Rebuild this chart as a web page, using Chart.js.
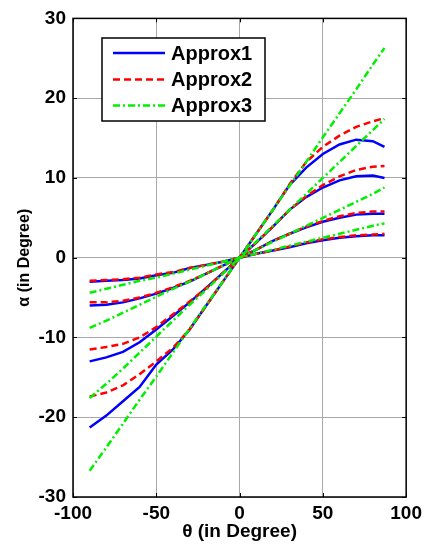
<!DOCTYPE html>
<html>
<head>
<meta charset="utf-8">
<script src="https://cdn.jsdelivr.net/npm/chart.js@4.4.1/dist/chart.umd.min.js"></script>
<style>
  html, body { margin: 0; padding: 0; background: #fff; }
  #wrap { width: 427px; height: 546px; }
</style>
</head>
<body>
<div id="wrap"><canvas id="alphaChart" width="427" height="546"></canvas></div>
<script>
const thetaDeg = [-90, -80, -70, -60, -50, -40, -30, -20, -10, 0, 10, 20, 30, 40, 50, 60, 70, 80, 87];

// Approx1 (blau), vier Kurven
const approx1_k1 = [-21.3, -19.8, -18.0, -16.2, -13.4, -11.5, -9.0, -6.0, -3.0, 0, 3.0, 6.0, 9.1, 11.3, 13.0, 14.2, 14.8, 14.6, 13.9];
const approx1_k2 = [-13.0, -12.5, -11.8, -10.6, -9.0, -7.3, -5.6, -3.8, -1.9, 0, 1.9, 3.9, 6.0, 7.6, 8.8, 9.7, 10.2, 10.3, 10.0];
const approx1_k3 = [-6.0, -5.9, -5.6, -5.1, -4.5, -3.8, -3.0, -2.0, -1.0, 0, 1.0, 2.1, 3.0, 3.8, 4.5, 5.0, 5.4, 5.5, 5.5];
const approx1_k4 = [-3.0, -2.9, -2.8, -2.6, -2.2, -1.9, -1.3, -0.9, -0.5, 0, 0.5, 0.9, 1.3, 1.8, 2.2, 2.5, 2.7, 2.8, 2.8];

// Approx2 (rot gestrichelt)
const approx2_k1 = [-17.4, -16.9, -16.0, -14.6, -13.0, -11.3, -9.0, -6.0, -3.0, 0, 3.0, 6.0, 9.2, 12.0, 13.9, 15.3, 16.4, 17.1, 17.5];
const approx2_k2 = [-11.5, -11.2, -10.8, -10.0, -8.7, -7.1, -5.5, -3.8, -1.9, 0, 1.9, 3.9, 6.0, 7.7, 9.1, 10.2, 11.0, 11.4, 11.5];
const approx2_k3 = [-5.6, -5.6, -5.4, -5.0, -4.4, -3.7, -2.9, -2.0, -1.0, 0, 1.0, 2.1, 3.0, 3.9, 4.6, 5.2, 5.6, 5.8, 5.8];
const approx2_k4 = [-2.9, -2.8, -2.7, -2.5, -2.1, -1.8, -1.3, -0.9, -0.5, 0, 0.5, 0.9, 1.4, 1.9, 2.3, 2.6, 2.8, 2.9, 3.0];

// Approx3 (gruen strich-punkt)
const approx3_k1 = [-26.7, -23.8, -20.8, -17.8, -14.9, -11.9, -8.9, -5.9, -3.0, 0, 3.0, 6.0, 9.0, 12.0, 15.1, 18.1, 21.1, 24.2, 26.3];
const approx3_k2 = [-17.6, -15.8, -13.9, -11.9, -9.9, -7.9, -5.9, -4.0, -2.0, 0, 2.0, 4.0, 6.0, 8.0, 10.0, 12.0, 14.0, 16.0, 17.4];
const approx3_k3 = [-8.8, -7.9, -6.9, -5.9, -4.9, -3.9, -3.0, -2.0, -1.0, 0, 1.0, 2.0, 3.0, 4.0, 5.0, 6.0, 7.0, 8.0, 8.8];
const approx3_k4 = [-4.4, -3.9, -3.4, -2.9, -2.5, -2.0, -1.5, -1.0, -0.5, 0, 0.5, 1.0, 1.5, 2.0, 2.5, 3.0, 3.5, 4.0, 4.3];

const seriesNames = ["Approx1", "Approx2", "Approx3"];
const xTicks = [-100, -50, 0, 50, 100];
const yTicks = [-30, -20, -10, 0, 10, 20, 30];

const FONT = "'Liberation Sans', Arial, sans-serif";
const styles = [
  { color: "#0000ff", dash: [], order: 2 },
  { color: "#ff0000", dash: [7, 4], order: 1 },
  { color: "#00f000", dash: [7, 3, 2, 3], order: 0 }
];

const toPoints = (vals) => vals.map((v, i) => ({ x: thetaDeg[i], y: v }));

function makeDataset(vals, s) {
  return {
    data: toPoints(vals),
    borderColor: styles[s].color,
    borderDash: styles[s].dash,
    borderWidth: 2.5,
    pointRadius: 0,
    tension: 0,
    fill: false,
    order: styles[s].order
  };
}

const datasets = [
  makeDataset(approx1_k1, 0), makeDataset(approx1_k2, 0), makeDataset(approx1_k3, 0), makeDataset(approx1_k4, 0),
  makeDataset(approx2_k1, 1), makeDataset(approx2_k2, 1), makeDataset(approx2_k3, 1), makeDataset(approx2_k4, 1),
  makeDataset(approx3_k1, 2), makeDataset(approx3_k2, 2), makeDataset(approx3_k3, 2), makeDataset(approx3_k4, 2)
];

// Rahmen mit innen liegenden Ticks (MATLAB-Stil)
const frameBox = {
  id: "frameBox",
  afterDatasetsDraw(chart) {
    const { ctx, chartArea: a, scales } = chart;
    ctx.save();
    ctx.strokeStyle = "#000";
    ctx.lineWidth = 1.5;
    ctx.strokeRect(a.left, a.top, a.right - a.left, a.bottom - a.top);
    ctx.lineWidth = 1;
    ctx.beginPath();
    xTicks.forEach(v => {
      const px = Math.round(scales.x.getPixelForValue(v)) + 0.5;
      ctx.moveTo(px, a.bottom); ctx.lineTo(px, a.bottom - 4);
      ctx.moveTo(px, a.top); ctx.lineTo(px, a.top + 4);
    });
    yTicks.forEach(v => {
      const py = Math.round(scales.y.getPixelForValue(v)) + 0.5;
      ctx.moveTo(a.left, py); ctx.lineTo(a.left + 4, py);
      ctx.moveTo(a.right, py); ctx.lineTo(a.right - 4, py);
    });
    ctx.stroke();
    ctx.restore();
  }
};

// Legende als Kasten oben links im Plot
const boxLegend = {
  id: "boxLegend",
  afterDraw(chart) {
    const ctx = chart.ctx;
    const bx = 102, by = 38, bw = 163, bh = 83;
    ctx.save();
    ctx.fillStyle = "#fff";
    ctx.fillRect(bx, by, bw, bh);
    ctx.strokeStyle = "#000";
    ctx.lineWidth = 1.5;
    ctx.strokeRect(bx, by, bw, bh);
    const rows = [53, 79.5, 105.5];
    seriesNames.forEach((name, i) => {
      ctx.beginPath();
      ctx.strokeStyle = styles[i].color;
      ctx.lineWidth = 2.5;
      ctx.setLineDash(styles[i].dash);
      ctx.moveTo(113, rows[i]);
      ctx.lineTo(165, rows[i]);
      ctx.stroke();
      ctx.setLineDash([]);
      ctx.fillStyle = "#000";
      ctx.font = "bold 20px " + FONT;
      ctx.textBaseline = "middle";
      ctx.fillText(name, 171, rows[i] + 1);
    });
    ctx.restore();
  }
};

new Chart(document.getElementById("alphaChart"), {
  type: "line",
  data: { datasets: datasets },
  options: {
    responsive: false,
    animation: false,
    devicePixelRatio: 1,
    layout: { padding: { top: 16, right: 15, left: 0, bottom: 0 } },
    plugins: { legend: { display: false }, tooltip: { enabled: false } },
    scales: {
      x: {
        type: "linear",
        min: -100,
        max: 100,
        afterBuildTicks: s => { s.ticks = xTicks.map(v => ({ value: v })); },
        afterFit: s => { s.height = 49; },
        grid: { color: "#a8a8a8", lineWidth: 1, drawTicks: false },
        border: { display: false },
        ticks: { padding: 5, color: "#000", font: { family: FONT, size: 19, weight: "bold" }, maxRotation: 0 },
        title: { display: true, text: "θ (in Degree)", color: "#000", padding: { top: 0, bottom: 3 }, font: { family: FONT, size: 19, weight: "bold" } }
      },
      y: {
        min: -30,
        max: 30,
        afterBuildTicks: s => { s.ticks = yTicks.map(v => ({ value: v })); },
        afterFit: s => { s.width = 73; },
        grid: { color: "#a8a8a8", lineWidth: 1, drawTicks: false },
        border: { display: false },
        ticks: { padding: 7, color: "#000", font: { family: FONT, size: 19, weight: "bold" } },
        title: { display: true, text: "α (in Degree)", color: "#000", padding: { top: 15, bottom: 0 }, font: { family: FONT, size: 16, weight: "bold" } }
      }
    }
  },
  plugins: [frameBox, boxLegend]
});
</script>
</body>
</html>
